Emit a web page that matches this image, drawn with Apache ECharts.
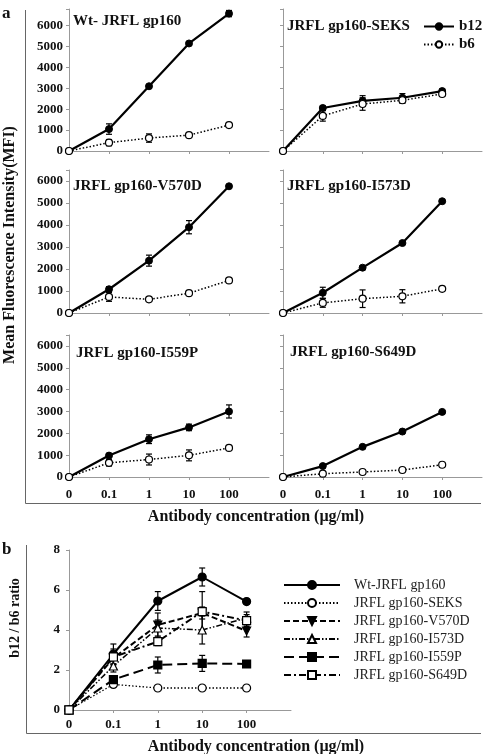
<!DOCTYPE html>
<html>
<head>
<meta charset="utf-8">
<script src="https://cdn.jsdelivr.net/npm/echarts@6/dist/echarts.min.js"></script>
<style>
  html, body {margin: 0; padding: 0; background: #fff;}
  #main {width: 486px; height: 754px;}
</style>
</head>
<body>
<div id="main"></div>
<script>
var FONT = '"Liberation Serif", "Times New Roman", serif';

/*x轴: 抗体浓度*/
var concLabels = ['0', '0.1', '1', '10', '100'];

/*a: MFI 数据 (b12 / b6), 误差*/
var wtB12 = [0, 1050, 3100, 5150, 6580];
var wtB12Err = [0, 250, 80, 80, 150];
var wtB6 = [0, 400, 620, 760, 1240];
var wtB6Err = [0, 150, 200, 60, 60];

var seksB12 = [0, 2060, 2400, 2550, 2870];
var seksB12Err = [0, 100, 250, 200, 100];
var seksB6 = [0, 1680, 2250, 2430, 2730];
var seksB6Err = [0, 250, 300, 150, 100];

var v570dB12 = [0, 1080, 2380, 3900, 5760];
var v570dB12Err = [0, 120, 250, 300, 60];
var v570dB6 = [0, 730, 620, 900, 1480];
var v570dB6Err = [0, 200, 50, 50, 60];

var i573dB12 = [0, 920, 2060, 3180, 5080];
var i573dB12Err = [0, 250, 80, 60, 60];
var i573dB6 = [0, 460, 650, 760, 1100];
var i573dB6Err = [0, 200, 400, 300, 60];

var i559pB12 = [0, 980, 1730, 2270, 3000];
var i559pB12Err = [0, 100, 200, 150, 300];
var i559pB6 = [0, 650, 800, 990, 1330];
var i559pB6Err = [0, 150, 250, 250, 50];

var s649dB12 = [0, 500, 1380, 2080, 2980];
var s649dB12Err = [0, 60, 60, 50, 60];
var s649dB6 = [0, 150, 230, 320, 560];
var s649dB6Err = [0, 40, 40, 40, 40];

var panelTitles = ['Wt- JRFL gp160', 'JRFL gp160-SEKS', 'JRFL gp160-V570D',
  'JRFL gp160-I573D', 'JRFL gp160-I559P', 'JRFL gp160-S649D'];

/*b: b12 / b6 比值*/
var ratioNames = ['Wt-JRFL gp160', 'JRFL gp160-SEKS', 'JRFL gp160-V570D',
  'JRFL gp160-I573D', 'JRFL gp160-I559P', 'JRFL gp160-S649D'];
var ratioWt = [0, 2.8, 5.45, 6.65, 5.42];
var ratioWtErr = [0, 0.5, 0.47, 0.45, 0.1];
var ratioSeks = [0, 1.28, 1.1, 1.1, 1.1];
var ratioSeksErr = [0, 0.1, 0.05, 0.05, 0.05];
var ratioV570d = [0, 2.6, 4.25, 4.85, 3.95];
var ratioV570dErr = [0, 0.3, 0.6, 0.3, 0.3];
var ratioI573d = [0, 2.2, 4.1, 4.0, 4.6];
var ratioI573dErr = [0, 0.3, 0.4, 0.7, 0.3];
var ratioI559p = [0, 1.52, 2.25, 2.33, 2.3];
var ratioI559pErr = [0, 0.2, 0.4, 0.4, 0.05];
var ratioS649d = [0, 2.65, 3.42, 4.92, 4.47];
var ratioS649dErr = [0, 0.4, 0.2, 1.0, 0.3];

var mfiPanels = [
  [wtB12, wtB12Err, wtB6, wtB6Err],
  [seksB12, seksB12Err, seksB6, seksB6Err],
  [v570dB12, v570dB12Err, v570dB6, v570dB6Err],
  [i573dB12, i573dB12Err, i573dB6, i573dB6Err],
  [i559pB12, i559pB12Err, i559pB6, i559pB6Err],
  [s649dB12, s649dB12Err, s649dB6, s649dB6Err]
];
var ratioSets = [
  [ratioWt, ratioWtErr], [ratioSeks, ratioSeksErr], [ratioV570d, ratioV570dErr],
  [ratioI573d, ratioI573dErr], [ratioI559p, ratioI559pErr], [ratioS649d, ratioS649dErr]
];

/*布局*/
var gridBoxes = [
  {left: 69, top: 9, width: 200, height: 142},
  {left: 283, top: 9, width: 199, height: 142},
  {left: 69, top: 170, width: 200, height: 143},
  {left: 283, top: 170, width: 199, height: 143},
  {left: 69, top: 335, width: 200, height: 142},
  {left: 283, top: 335, width: 199, height: 142},
  {left: 69, top: 550, width: 222, height: 160}
];
var yMax = [6800, 6800, 6500, 6500, 6500, 6500, 8];
var titlePos = [[73, 14], [287, 19], [73, 179], [287, 179], [76, 346], [290, 345]];

/*线型*/
var ratioStyles = [
  {type: 'solid', width: 2, symbol: 'circle', fill: '#000', rot: 0},
  {type: [1.5, 2], width: 1.3, symbol: 'circle', fill: '#fff', rot: 0},
  {type: [6, 3], width: 2, symbol: 'triangle', fill: '#000', rot: 180},
  {type: [6, 2, 1.5, 2, 1.5, 2], width: 1.5, symbol: 'triangle', fill: '#fff', rot: 0},
  {type: [10, 5], width: 2, symbol: 'rect', fill: '#000', rot: 0},
  {type: [7, 3, 2, 3], width: 2, symbol: 'rect', fill: '#fff', rot: 0}
];

function renderErr(params, api) {
  var x = api.value(0), v = api.value(1), e = api.value(2);
  var hi = api.coord([x, v + e]);
  var lo = api.coord([x, v - e]);
  var w = 3;
  var st = {stroke: '#000', lineWidth: 1.2};
  return {
    type: 'group',
    children: [
      {type: 'line', shape: {x1: hi[0], y1: hi[1], x2: lo[0], y2: lo[1]}, style: st},
      {type: 'line', shape: {x1: hi[0] - w, y1: hi[1], x2: hi[0] + w, y2: hi[1]}, style: st},
      {type: 'line', shape: {x1: lo[0] - w, y1: lo[1], x2: lo[0] + w, y2: lo[1]}, style: st}
    ]
  };
}

function errSeries(gi, vals, errs) {
  var d = [];
  for (var i = 0; i < vals.length; i++) {
    if (errs[i] > 0) d.push([i, vals[i], errs[i]]);
  }
  return {
    type: 'custom', name: 'err', xAxisIndex: gi, yAxisIndex: gi,
    renderItem: renderErr, data: d, z: 1, silent: true
  };
}

var grids = [], xAxes = [], yAxes = [], series = [], graphics = [];
for (var g = 0; g < 7; g++) {
  var box = gridBoxes[g];
  grids.push({left: box.left, top: box.top, width: box.width, height: box.height});
  var showX = (g >= 4);
  xAxes.push({
    type: 'category', gridIndex: g, boundaryGap: false,
    data: concLabels.concat(['']),
    axisLine: {lineStyle: {color: '#999', width: 1}},
    axisTick: {length: 3, lineStyle: {color: '#999'}, interval: function (i) { return i > 0 && i < 5; }},
    axisLabel: {
      show: showX, interval: 0, margin: g == 6 ? 8 : 11,
      fontFamily: FONT, fontWeight: 'bold', fontSize: 13, color: '#111'
    },
    splitLine: {show: false}
  });
  var step = g == 6 ? 2 : 1000;
  yAxes.push({
    type: 'value', gridIndex: g, min: 0, max: yMax[g], interval: step,
    axisLine: {show: true, lineStyle: {color: '#999', width: 1}},
    axisTick: {show: true, length: 3, lineStyle: {color: '#999'}},
    axisLabel: {
      show: (g % 2 == 0), margin: g == 6 ? 9 : 6,
      fontFamily: FONT, fontWeight: 'bold', fontSize: 13, color: '#111',
      // 只显示整千 (a) 或整数 (b)
      formatter: function (v) { return v % 1 === 0 && (v < 10 || v % 1000 === 0) ? String(v) : ''; }
    },
    splitLine: {show: false}
  });
}

// a 面板
for (var p = 0; p < 6; p++) {
  var m = mfiPanels[p];
  series.push(errSeries(p, m[0], m[1]));
  series.push(errSeries(p, m[2], m[3]));
  series.push({
    name: 'b12', type: 'line', xAxisIndex: p, yAxisIndex: p, data: m[0],
    symbol: 'circle', symbolSize: 7, showAllSymbol: true,
    lineStyle: {color: '#000', width: 2.2},
    itemStyle: {color: '#000', borderColor: '#000', borderWidth: 1},
    z: 3
  });
  series.push({
    name: 'b6', type: 'line', xAxisIndex: p, yAxisIndex: p, data: m[2],
    symbol: 'circle', symbolSize: 7, showAllSymbol: true,
    lineStyle: {color: '#000', width: 1.5, type: [1.5, 2]},
    itemStyle: {color: '#fff', borderColor: '#000', borderWidth: 1.2},
    z: 4
  });
  graphics.push({
    type: 'text', x: titlePos[p][0], y: titlePos[p][1],
    style: {text: panelTitles[p], font: 'bold 15px ' + FONT, fill: '#111', textVerticalAlign: 'top'}
  });
}

// b 面板
for (var r = 0; r < 6; r++) {
  series.push(errSeries(6, ratioSets[r][0], ratioSets[r][1]));
}
for (var r = 0; r < 6; r++) {
  var s = ratioStyles[r];
  series.push({
    name: ratioNames[r], type: 'line', xAxisIndex: 6, yAxisIndex: 6, data: ratioSets[r][0],
    symbol: s.symbol, symbolSize: 8, symbolRotate: s.rot, showAllSymbol: true,
    lineStyle: {color: '#000', width: s.width, type: s.type},
    itemStyle: {color: s.fill, borderColor: '#000', borderWidth: 1.2},
    z: 3 + r
  });
}

graphics = graphics.concat([
  {type: 'text', x: 2, y: 5, style: {text: 'a', font: 'bold 17px ' + FONT, fill: '#111', textVerticalAlign: 'top'}},
  {type: 'text', x: 2, y: 541, style: {text: 'b', font: 'bold 17px ' + FONT, fill: '#111', textVerticalAlign: 'top'}},
  {type: 'polyline', shape: {points: [[25.5, 10], [25.5, 503.5], [481, 503.5]]}, style: {stroke: '#666', lineWidth: 1, fill: null}},
  {type: 'polyline', shape: {points: [[26.5, 545], [26.5, 733.5], [481, 733.5]]}, style: {stroke: '#666', lineWidth: 1, fill: null}},
  {type: 'text', x: 10, y: 245, rotation: Math.PI / 2,
    style: {text: 'Mean Fluorescence Intensity(MFI)', font: 'bold 16px ' + FONT, fill: '#111', textAlign: 'center', textVerticalAlign: 'middle'}},
  {type: 'text', x: 256, y: 517,
    style: {text: 'Antibody concentration (\u00b5g/ml)', font: 'bold 16px ' + FONT, fill: '#111', textAlign: 'center', textVerticalAlign: 'middle'}},
  {type: 'text', x: 15, y: 618, rotation: Math.PI / 2,
    style: {text: 'b12 / b6 ratio', font: 'bold 14px ' + FONT, fill: '#111', textAlign: 'center', textVerticalAlign: 'middle'}},
  {type: 'text', x: 256, y: 747,
    style: {text: 'Antibody concentration (\u00b5g/ml)', font: 'bold 16px ' + FONT, fill: '#111', textAlign: 'center', textVerticalAlign: 'middle'}}
]);

var option = {
  animation: false,
  grid: grids,
  xAxis: xAxes,
  yAxis: yAxes,
  legend: [
    {
      data: ['b12', 'b6'], orient: 'vertical', left: 423, top: 19, padding: 0,
      itemWidth: 30, itemHeight: 8, itemGap: 3, selectedMode: false,
      textStyle: {fontFamily: FONT, fontWeight: 'bold', fontSize: 15, color: '#111'}
    },
    {
      data: ratioNames, orient: 'vertical', left: 283, top: 578, padding: 0,
      itemWidth: 56, itemHeight: 10, itemGap: 4, selectedMode: false,
      textStyle: {fontFamily: FONT, fontSize: 14, color: '#222', padding: [0, 0, 0, 9]}
    }
  ],
  series: series,
  graphic: graphics
};

var chart = echarts.init(document.getElementById('main'));
chart.setOption(option);
</script>
</body>
</html>
